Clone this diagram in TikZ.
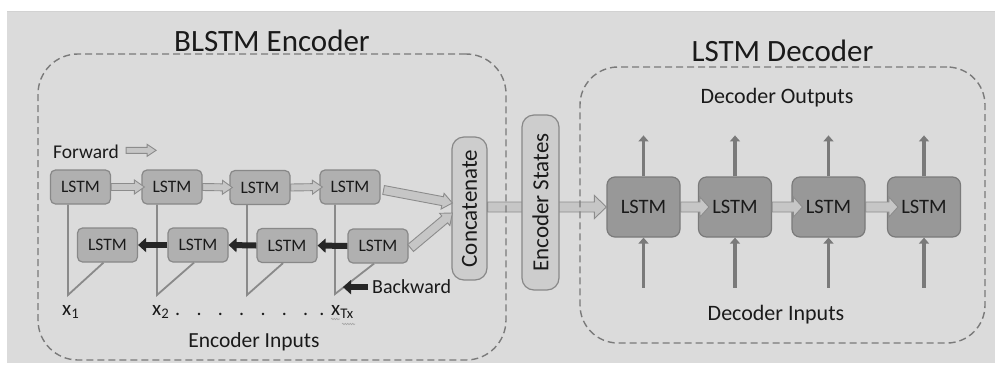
\documentclass[tikz,border=0pt]{standalone}
\usepackage{fontspec}
\setmainfont{Carlito}
\usepackage{graphicx}
\usetikzlibrary{calc,arrows.meta,decorations.pathmorphing}
\definecolor{bggray}{HTML}{DBDBDB}
\definecolor{encfill}{HTML}{B0B0B0}
\definecolor{encdraw}{HTML}{888888}
\definecolor{decfill}{HTML}{989898}
\definecolor{decdraw}{HTML}{7A7A7A}
\definecolor{lightfill}{HTML}{CDCDCD}
\definecolor{arrfill}{HTML}{C6C6C6}
\definecolor{arrdraw}{HTML}{8C8C8C}
\definecolor{txt}{HTML}{1A1A1A}
\definecolor{linegray}{HTML}{8A8A8A}
\definecolor{dashgray}{HTML}{7A7A7A}
\definecolor{darkarr}{HTML}{262626}
\definecolor{vgray}{HTML}{7A7A7A}
\newcommand{\fsz}[1]{\fontsize{#1}{#1}\selectfont}
% hollow arrow: #1 extra style, #2 start, #3 end, #4 half shaft, #5 half head, #6 head length
\newcommand{\harrow}[6][]{%
  \coordinate (ha-base) at ($(#3)!#6!(#2)$);
  \draw[hollow,#1] ($(#2)!#4!90:(#3)$) -- ($(ha-base)!#4!90:(#3)$) -- ($(ha-base)!#5!90:(#3)$) -- (#3)
    -- ($(ha-base)!#5!-90:(#3)$) -- ($(ha-base)!#4!-90:(#3)$) -- ($(#2)!#4!-90:(#3)$) -- cycle;}
\begin{document}
\begin{tikzpicture}[x=1pt,y=-1pt,
  enc/.style={rectangle, rounded corners=5pt, draw=encdraw, line width=1.2pt, fill=encfill,
    minimum width=60pt, minimum height=34pt, inner sep=0pt, font=\fsz{17.5}, text=txt},
  dec/.style={rectangle, rounded corners=8pt, draw=decdraw, line width=1.2pt, fill=decfill,
    minimum width=73pt, minimum height=60pt, inner sep=0pt, font=\fsz{20.5}, text=txt},
  vbox/.style={rectangle, rounded corners=12pt, draw=encdraw, line width=1.2pt, fill=lightfill,
    inner sep=0pt, font=\fsz{23}, text=txt},
  frame/.style={rectangle, draw=dashgray, line width=1.4pt, dash pattern=on 7pt off 4pt,
    inner sep=0pt},
  lbl/.style={inner sep=0pt, text=txt},
  hollow/.style={fill=arrfill, draw=arrdraw, line width=0.9pt, line join=miter},
  blackarrow/.style={draw=darkarr, line width=6pt, -{Triangle[length=8pt,width=14pt]}},
  inline/.style={draw=linegray, line width=1.8pt, line join=miter},
  decarrow/.style={draw=vgray, line width=3.8pt, -{Triangle[length=6pt,width=10pt]}},
  squiggle/.style={draw=gray!70, line width=0.6pt, decorate,
    decoration={snake, segment length=2.5pt, amplitude=0.7pt}}
]
\useasboundingbox (0,0) rectangle (995,365);
\fill[white] (0,0) rectangle (995,365);
\fill[bggray] (7,11) rectangle (995,363);
\draw[gray!35, line width=1.2pt] (7,11.6) -- (995,11.6);

% titles
\node[lbl, anchor=base, font=\fsz{31}] (enctitle) at (272,51.5) {BLSTM Encoder};
\node[lbl, anchor=base, font=\fsz{31}] (dectitle) at (782.5,61.5) {LSTM Decoder};

% encoder forward nodes
\node[enc] (f1) at (80.5,187) {LSTM};
\node[enc] (f2) at (172,187) {LSTM};
\node[enc] (f3) at (260,187.5) {LSTM};
\node[enc] (f4) at (350,187) {LSTM};
% encoder backward nodes
\node[enc] (r1) at (107.5,245) {LSTM};
\node[enc] (r2) at (198,245) {LSTM};
\node[enc] (r3) at (287,245.5) {LSTM};
\node[enc] (r4) at (378,246) {LSTM};

% input lines
\coordinate (b1) at (68,295);
\coordinate (b2) at (157,295);
\coordinate (b3) at (247,295);
\coordinate (b4) at (335,294);
\draw[inline] (f1.south -| b1) -- (b1) -- ([xshift=-4pt]r1.south);
\draw[inline] (f2.south -| b2) -- (b2) -- ([xshift=-4pt]r2.south);
\draw[inline] (f3.south -| b3) -- (b3) -- ([xshift=-4pt]r3.south);
\draw[inline] (f4.south -| b4) -- (b4) -- ([xshift=-4pt]r4.south);

% forward arrows
\coordinate (t2) at ([xshift=3pt]f2.west);
\coordinate (t3) at ([xshift=3pt]f3.west);
\coordinate (t4) at ([xshift=3pt]f4.west);
\harrow{f1.east}{t2}{3.5pt}{7pt}{10pt}
\harrow{f2.east}{t3}{3.5pt}{7pt}{10pt}
\harrow{f3.east}{t4}{3.5pt}{7pt}{10pt}

% backward arrows
\draw[blackarrow] (r4.west) -- (r3.east);
\draw[blackarrow] (r3.west) -- (r2.east);
\draw[blackarrow] (r2.west) -- (r1.east);

% labels
\node[lbl, anchor=base west, font=\fsz{19.5}] (fwtext) at (53,158) {Forward};
\coordinate (fwa) at ([xshift=7pt,yshift=1pt]fwtext.east);
\coordinate (fwb) at ([xshift=37pt,yshift=1pt]fwtext.east);
\harrow{fwa}{fwb}{3pt}{6pt}{9pt}

\node[lbl, anchor=base west, font=\fsz{20}] (bwtext) at (372,293) {Backward};
\coordinate (bwa) at ([xshift=-4pt,yshift=-1pt]bwtext.west);
\coordinate (bwb) at ([xshift=-29pt,yshift=-1pt]bwtext.west);
\draw[blackarrow] (bwa) -- (bwb);

\node[lbl, anchor=base west, font=\fsz{21}] (x1) at (62,315) {x\textsubscript{1}};
\node[lbl, anchor=base west, font=\fsz{21}] (x2) at (152,315) {x\textsubscript{2}};
\node[lbl, anchor=base west, font=\fsz{21}] (xt) at (331,315) {x\textsubscript{Tx}};
\node[lbl, anchor=base west, font=\fsz{20}] (dots) at (175,315)
  {.\hskip 16.3pt.\hskip 16.3pt.\hskip 16.3pt.\hskip 16.3pt.\hskip 16.3pt.\hskip 16.3pt.\hskip 11pt.};
\draw[squiggle] ([yshift=-4pt]xt.base west) -- ++(9,0);
\draw[squiggle] ([xshift=11pt,yshift=-9pt]xt.base west) -- ++(13,0);

\node[lbl, anchor=base, font=\fsz{21.5}] (encin) at (254,347) {Encoder Inputs};

% concatenate
\node[vbox, minimum width=35pt, minimum height=143pt] (cat) at (469.5,208.5)
  {\rotatebox{90}{Concatenate}};
\coordinate (c1) at ([xshift=3pt,yshift=-3pt]f4.east);
\coordinate (c1t) at ([xshift=1pt,yshift=5.5pt]cat.west);
\coordinate (c2) at ([xshift=2pt,yshift=-2pt]r4.east);
\coordinate (c2t) at ([xshift=1pt,yshift=-4.5pt]cat.west);
\harrow{c1}{c1t}{4.5pt}{8pt}{10pt}
\harrow{c2}{c2t}{4.5pt}{8pt}{10pt}

% decoder nodes
\node[dec] (d1) at (643.5,207) {LSTM};
\node[dec] (d2) at (735,207) {LSTM};
\node[dec] (d3) at (828.5,207) {LSTM};
\node[dec] (d4) at (924,207) {LSTM};

% big arrow concatenate -> decoder
\coordinate (ga) at (cat.east |- d1.west);
\harrow{ga}{d1.west}{5pt}{11.5pt}{12pt}

% frames
\node[frame, rounded corners=40pt, minimum width=468pt, minimum height=306pt] (encframe) at (272,207) {};
\node[frame, rounded corners=38pt, minimum width=405pt, minimum height=276pt] (decframe) at (782.5,205) {};

% encoder states
\node[vbox, minimum width=37pt, minimum height=175pt] (es) at (540.5,202.5)
  {\rotatebox{90}{Encoder States}};

% decoder arrows between nodes
\coordinate (e2) at ([xshift=11pt]d2.west);
\coordinate (e3) at ([xshift=11pt]d3.west);
\coordinate (e4) at ([xshift=11pt]d4.west);
\harrow{d1.east}{e2}{5pt}{10pt}{9pt}
\harrow{d2.east}{e3}{5pt}{10pt}{9pt}
\harrow{d3.east}{e4}{5pt}{10pt}{9pt}

% decoder outputs / inputs
\foreach \i in {1,2,3,4}{
  \coordinate (o\i) at ([yshift=41pt]d\i.north);
  \coordinate (in\i) at ([yshift=-50pt]d\i.south);
  \draw[decarrow] (d\i.north) -- (o\i);
  \draw[decarrow] (in\i) -- (d\i.south);
}
\node[lbl, anchor=base, font=\fsz{22}] (decout) at (777,103) {Decoder Outputs};
\node[lbl, anchor=base, font=\fsz{22}] (decin) at (776,320) {Decoder Inputs};
\end{tikzpicture}
\end{document}
